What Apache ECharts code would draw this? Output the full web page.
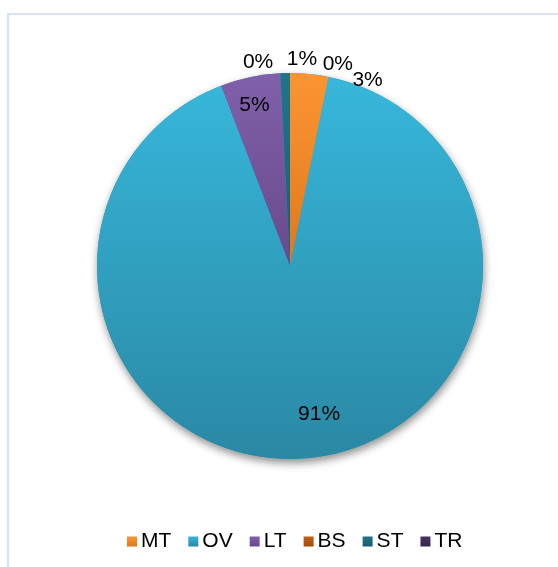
<!DOCTYPE html>
<html>
<head>
<meta charset="utf-8">
<script src="https://cdn.jsdelivr.net/npm/echarts@6/dist/echarts.min.js"></script>
<style>
html,body{margin:0;padding:0;background:#fff;}
#c{width:558px;height:567px;}
</style>
</head>
<body>
<div id="c"></div>
<script>
const categories = ['MT', 'OV', 'LT', 'BS', 'ST', 'TR'];
const values = [3.2, 90.9, 5.0, 0, 0.8, 0];
const colorTop = ['#fb9533', '#37b7db', '#8060a9', '#c35e12', '#217587', '#47325f'];
const colorBottom = ['#e0781c', '#2a88a4', '#684a8d', '#a64a08', '#175f70', '#35254a'];
const labelPos = ['outside', 'inside', 'inside', 'outside', 'outside', 'outside'];
const labelShift = [[38, 6], [21, 49], [-15, -63], [-2, -11], [37, -14], [68, -9]];

const chart = echarts.init(document.getElementById('c'), null, {renderer: 'canvas'});
const grad = (i) => new echarts.graphic.LinearGradient(0, 0, 0, 1, [
  {offset: 0, color: colorTop[i]}, {offset: 1, color: colorBottom[i]}
]);

const data = categories.map((name, i) => ({
  name: name,
  value: values[i],
  itemStyle: {color: grad(i)},
  label: {position: labelPos[i]}
}));

chart.setOption({
  animation: false,
  graphic: [{
    type: 'rect', z: -10,
    shape: {x: 8, y: 14, width: 620, height: 620},
    style: {fill: 'none', stroke: '#d6e4f5', lineWidth: 2}
  }],
  legend: {
    data: categories,
    left: 127,
    top: 531,
    padding: 0,
    itemWidth: 10,
    itemHeight: 10,
    itemGap: 17,
    icon: 'rect',
    textStyle: {fontFamily: 'Liberation Sans, Arial', fontSize: 21, color: '#000', padding: [0, 0, 0, -1]}
  },
  series: [{
    type: 'pie',
    silent: true,
    center: [290, 266],
    radius: 193,
    z: 1,
    data: [{value: 1, itemStyle: {color: '#2f9fc2'}}],
    itemStyle: {shadowColor: 'rgba(0,0,0,0.45)', shadowBlur: 8, shadowOffsetY: 4, shadowOffsetX: 1},
    label: {show: false},
    labelLine: {show: false},
    legendHoverLink: false
  }, {
    type: 'pie',
    name: 'share',
    center: [290, 266],
    radius: 193,
    z: 2,
    startAngle: 90,
    clockwise: true,
    avoidLabelOverlap: false,
    stillShowZeroSum: true,
    data: data,
    label: {
      show: true,
      formatter: (p) => Math.round(p.percent) + '%',
      fontFamily: 'Liberation Sans, Arial',
      fontSize: 21,
      color: '#000'
    },
    labelLine: {show: false, length: 0, length2: 0},
    labelLayout: (p) => ({dx: labelShift[p.dataIndex][0], dy: labelShift[p.dataIndex][1]})
  }]
});
</script>
</body>
</html>
